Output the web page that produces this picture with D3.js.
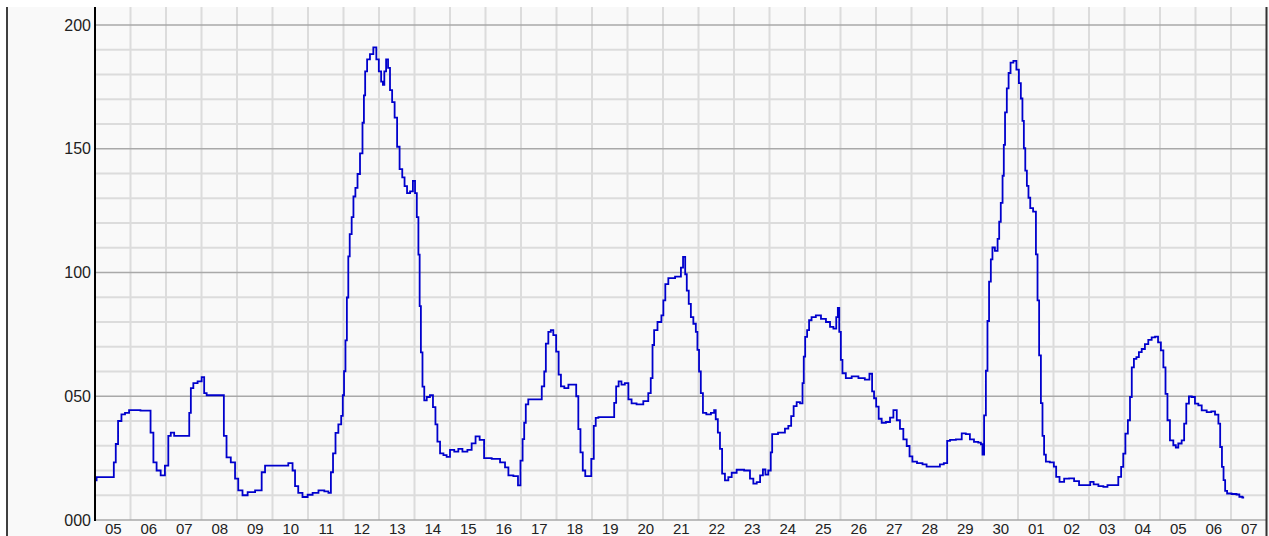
<!DOCTYPE html>
<html lang="en">
<head>
    <meta charset="UTF-8">
    <title>Daily series</title>
    <script src="https://cdn.jsdelivr.net/npm/d3@7"></script>
    <style>
        body { margin: 0; background: #fff; }
        svg text { font-family: "Liberation Sans", Arial, sans-serif; fill: #222; }
    </style>
</head>
<body>
    <script>
        // time of each reading, in days after the first day shown (05)
        const dayOffsets = [
            0, 0.09, 0.5, 0.56, 0.61, 0.69, 0.8, 0.89, 1.03, 1.53, 1.6, 1.69, 1.78, 1.92, 2.02, 2.11, 2.16, 2.3, 2.63, 2.68,
            2.72, 2.82, 2.96, 3.05, 3.1, 3.19, 3.6, 3.66, 3.75, 3.9, 3.99, 4.08, 4.23, 4.37, 4.65, 4.74, 4.84, 5.35, 5.54, 5.59,
            5.68, 5.77, 5.92, 6.06, 6.2, 6.39, 6.53, 6.62, 6.67, 6.74, 6.81, 6.9, 6.97, 6.99, 7.04, 7.07, 7.12, 7.15, 7.2, 7.26,
            7.3, 7.37, 7.42, 7.51, 7.56, 7.59, 7.63, 7.7, 7.79, 7.89, 7.96, 8.03, 8.09, 8.13, 8.17, 8.23, 8.28, 8.34, 8.4, 8.48,
            8.54, 8.62, 8.69, 8.75, 8.83, 8.92, 8.99, 9.04, 9.09, 9.13, 9.16, 9.2, 9.25, 9.3, 9.39, 9.48, 9.56, 9.62, 9.67, 9.77,
            9.86, 9.95, 10.05, 10.19, 10.28, 10.42, 10.56, 10.66, 10.78, 10.89, 11.03, 11.32, 11.5, 11.6, 11.69, 11.88, 11.95, 12.02, 12.07, 12.11,
            12.16, 12.25, 12.54, 12.63, 12.68, 12.72, 12.82, 12.86, 12.96, 13.02, 13.1, 13.15, 13.29, 13.38, 13.52, 13.59, 13.64, 13.71, 13.77, 13.85,
            13.94, 14.02, 14.08, 14.13, 14.23, 14.6, 14.65, 14.71, 14.79, 14.87, 14.98, 15.07, 15.16, 15.35, 15.54, 15.63, 15.68, 15.73, 15.77, 15.92,
            15.99, 16.03, 16.1, 16.2, 16.48, 16.53, 16.6, 16.65, 16.69, 16.76, 16.81, 16.9, 16.95, 16.99, 17.04, 17.09, 17.16, 17.28, 17.42, 17.46,
            17.51, 17.58, 17.63, 17.7, 17.79, 17.89, 17.98, 18.17, 18.4, 18.5, 18.59, 18.69, 18.78, 18.85, 18.92, 19.01, 19.06, 19.09, 19.39, 19.48,
            19.58, 19.64, 19.72, 19.81, 19.91, 19.95, 19.98, 20.03, 20.09, 20.14, 20.23, 20.38, 20.52, 20.66, 20.75, 20.85, 20.91, 20.94, 20.99, 21.03,
            21.08, 21.22, 21.41, 21.6, 21.77, 21.86, 21.92, 21.97, 22.04, 22.11, 22.21, 22.35, 22.44, 22.54, 22.63, 22.72, 22.82, 22.91, 22.98, 23.07,
            23.24, 23.38, 23.47, 23.75, 23.85, 23.97, 24.04, 24.13, 24.37, 24.46, 24.6, 24.69, 24.83, 24.93, 24.98, 25.02, 25.07, 25.12, 25.16, 25.21,
            25.26, 25.3, 25.4, 25.45, 25.49, 25.54, 25.59, 25.61, 25.66, 25.71, 25.76, 25.82, 25.92, 25.99, 26.06, 26.1, 26.15, 26.18, 26.23, 26.27,
            26.32, 26.37, 26.48, 26.53, 26.57, 26.62, 26.67, 26.71, 26.76, 26.81, 26.98, 27.04, 27.11, 27.23, 27.37, 27.51, 27.65, 27.79, 27.98, 28.09,
            28.17, 28.36, 28.45, 28.59, 28.78, 28.87, 28.94, 28.99, 29.06, 29.13, 29.18, 29.23, 29.3, 29.37, 29.44, 29.53, 29.62, 29.72, 29.81, 29.91,
            29.98, 30.07, 30.12, 30.19, 30.23, 30.33, 30.42, 30.47, 30.56, 30.66, 30.7, 30.78, 30.85, 30.94, 31.03, 31.13, 31.22, 31.41, 31.48, 31.62,
            31.67, 31.72, 31.77, 31.81, 31.86, 31.92, 32.11, 32.2, 32.27, 32.37
        ];

        // reading at each of those times
        const values = [
            16, 17.3, 17.3, 23.3, 30.7, 40, 42.7, 43.3, 44.4, 44.2, 35.3, 23.3, 20, 18, 22, 34, 35.3, 34, 34, 43.3,
            53.3, 55.3, 56, 57.7, 51.3, 50.4, 50.4, 34, 25.3, 23.3, 16.7, 12, 10, 11.3, 12, 19.3, 22, 22, 23, 20,
            13.7, 11, 9.3, 10.2, 11, 12, 11.6, 11, 19.3, 26.9, 35.2, 38.6, 42.1, 50.4, 60.1, 72.6, 89.9, 106.5, 115.5, 122.4,
            130.7, 134.2, 139.8, 148.1, 160.5, 171.6, 181.3, 186.1, 188.2, 191, 186.1, 181.3, 177.1, 175.8, 181.3, 186.1, 182.7, 173.7, 168.8, 162.6,
            150.8, 141.8, 138.4, 134.9, 132.1, 132.8, 137, 132.1, 122.4, 107.2, 86.4, 67.7, 53.9, 48.3, 49.7, 50.4, 45.6, 38.6, 31.7, 26.9,
            26.2, 25.5, 28.3, 27.6, 28.7, 27.6, 28.3, 31, 33.8, 32.4, 25, 24.7, 23.3, 21.3, 18, 17.7, 14, 24, 32.7, 39.3,
            46.7, 48.7, 48.7, 54, 60, 71.3, 76, 76.7, 74.7, 68, 58.7, 54, 53.3, 54.7, 54.7, 50, 36.7, 27.3, 20, 17.7,
            17.7, 24.7, 38, 41.3, 41.6, 41.6, 47.3, 54, 56, 54.7, 55.3, 48.7, 47.1, 46.7, 48, 51.3, 57.3, 70.7, 76.7, 80,
            82.7, 88.7, 95.3, 97.7, 98.3, 102, 106.3, 99.3, 92.7, 87.3, 82, 79.3, 76, 68.7, 60, 51.3, 43.3, 42.7, 43.3, 44.4,
            40.7, 35.3, 28.7, 18.7, 16, 17.3, 19.1, 20.3, 20, 16.7, 14.7, 15.3, 18, 20.4, 18.3, 20, 27.3, 34.7, 35.3, 36.9,
            38, 42, 46, 47.6, 47.1, 55.3, 66, 74, 76.7, 80.7, 82, 82.7, 81.3, 80, 78, 77.3, 82, 85.7, 76, 64.7,
            59.3, 57.3, 58, 57.3, 56.7, 59.1, 52, 49.2, 45.8, 40.9, 39.3, 39.6, 41.4, 44.4, 40.3, 36.8, 32.6, 29.9, 25.7, 23.6,
            23, 22.5, 21.6, 21.6, 22.5, 23, 32, 32.4, 32.6, 35, 34.7, 32.6, 31.6, 31.3, 30.6, 26.4, 42.3, 60.3, 80.4, 96.3,
            105.3, 110.1, 108.7, 113.6, 120.5, 128.1, 139.1, 151.6, 164.7, 174.4, 180.6, 184.8, 185.5, 182, 176.5, 170.3, 161.3, 150.2, 141.2, 135,
            130.2, 126, 124.6, 107.3, 88.7, 66.5, 47.2, 34, 26.4, 23.6, 23.3, 21.6, 17.4, 15.4, 16.7, 16.8, 15.7, 14.1, 14.1, 15.4,
            14.4, 13.7, 13.4, 14.1, 14.1, 17.4, 21.5, 26.8, 34.9, 40.3, 49.7, 61.7, 65.1, 65.8, 67.8, 69.1, 71.1, 72.8, 73.8, 74.1,
            71.8, 68.5, 61.7, 51, 40.3, 32.2, 30.2, 29.3, 30.9, 32.2, 38.9, 47, 49.9, 49.7, 47, 46.3, 44.3, 43.6, 43.9, 42.6,
            38.9, 29.5, 21.5, 16.1, 11.8, 10.7, 10.5, 10.3, 9.4, 9.1
        ];

        const yTicks = [0, 50, 100, 150, 200];
        const yMinor = d3.range(10, 201, 10);

        const startDay = new Date(2023, 8, 5);   // 05 Sep
        const endDay = d3.timeDay.offset(startDay, 33);   // 08 Oct, right edge
        const days = d3.timeDay.range(startDay, endDay);

        const W = 1269, H = 536;
        const plotLeft = 95, plotRight = 1266.5, plotTop = 7, plotBottom = 520;

        const svg = d3.select('body').append('svg').attr('width', W).attr('height', H);

        // panel background
        svg.append('rect').attr('x', 7).attr('y', plotTop).attr('width', W - 7).attr('height', H - plotTop).attr('fill', '#f9f9f9');

        const x = d3.scaleTime().domain([startDay, endDay]).range([plotLeft, plotRight]);
        const y = d3.scaleLinear().domain([0, 200]).range([plotBottom, 25]);

        // grid
        const grid = svg.append('g');
        grid.selectAll('line.v').data(days.slice(1)).join('line')
            .attr('x1', d => x(d)).attr('x2', d => x(d))
            .attr('y1', plotTop).attr('y2', plotBottom)
            .attr('stroke', '#dcdcdc').attr('stroke-width', 2);
        grid.selectAll('line.h').data(yMinor.filter(v => v % 50 !== 0)).join('line')
            .attr('x1', plotLeft).attr('x2', plotRight)
            .attr('y1', d => y(d)).attr('y2', d => y(d))
            .attr('stroke', '#dcdcdc').attr('stroke-width', 2);
        svg.append('g').selectAll('line').data(yTicks).join('line')
            .attr('x1', plotLeft).attr('x2', plotRight)
            .attr('y1', d => y(d)).attr('y2', d => y(d))
            .attr('stroke', '#a9a9a9').attr('stroke-width', 1.5);

        // series
        const points = dayOffsets.map((d, i) => [new Date(+startDay + d * 864e5), values[i]]);
        const line = d3.line().curve(d3.curveStep).x(d => x(d[0])).y(d => y(d[1]));
        svg.append('path').datum(points)
            .attr('d', line)
            .attr('fill', 'none')
            .attr('stroke', '#0000cc')
            .attr('stroke-width', 1.8);

        // axes
        const yAxis = svg.append('g').attr('transform', `translate(${plotLeft},0)`)
            .call(d3.axisLeft(y).tickValues(yTicks).tickSize(0).tickPadding(4).tickFormat(d3.format('03d')));
        yAxis.select('.domain').remove();
        yAxis.selectAll('text').style('font-size', '16px');

        const xAxis = svg.append('g').attr('transform', `translate(0,${plotBottom})`)
            .call(d3.axisBottom(x).tickValues(days.map(d => d3.timeHour.offset(d, 12)))
                .tickSize(0).tickPadding(3).tickFormat(d3.timeFormat('%d')));
        xAxis.select('.domain').remove();
        xAxis.selectAll('text').style('font-size', '15px');

        // frame lines
        svg.append('line').attr('x1', 7).attr('x2', 7).attr('y1', plotTop).attr('y2', H)
            .attr('stroke', '#000').attr('stroke-width', 1.5);
        svg.append('line').attr('x1', plotLeft).attr('x2', plotLeft).attr('y1', plotTop).attr('y2', plotBottom + 1)
            .attr('stroke', '#000').attr('stroke-width', 2);
        svg.append('line').attr('x1', plotRight).attr('x2', plotRight).attr('y1', plotTop).attr('y2', H)
            .attr('stroke', '#333').attr('stroke-width', 2);
    </script>
</body>
</html>
